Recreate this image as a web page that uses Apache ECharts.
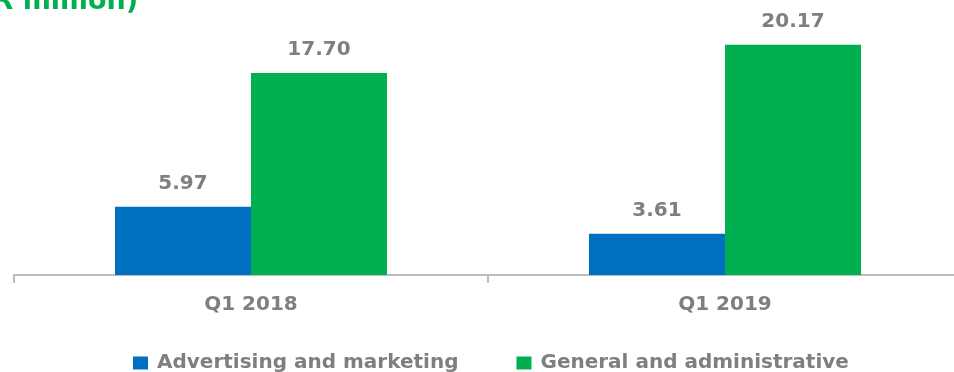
<!DOCTYPE html>
<html>
<head>
<meta charset="utf-8">
<script src="https://cdn.jsdelivr.net/npm/echarts@6/dist/echarts.min.js"></script>
<style>
  html, body { margin: 0; padding: 0; background: #ffffff; overflow: hidden; }
  #chart { width: 954px; height: 372px; }
</style>
</head>
<body>
<div id="chart"></div>
<script>
// Quarterly expense breakdown (EUR million)
const categories = ['Q1 2018', 'Q1 2019'];
const seriesNames = ['Advertising and marketing', 'General and administrative'];
const advertising = [5.97, 3.61];
const generalAdmin = [17.70, 20.17];
const titleText = '(EUR million)';

const BLUE = '#0070C0';
const GREEN = '#00B050';
const GREY = '#7F7F7F';
const FONT = '"DejaVu Sans", Verdana, sans-serif';

const chart = echarts.init(document.getElementById('chart'), null, { renderer: 'canvas' });

const labelStyle = {
  show: true,
  position: 'top',
  distance: 13,
  color: GREY,
  fontFamily: FONT,
  fontWeight: 'bold',
  fontSize: 20,
  formatter: p => p.value.toFixed(2)
};

chart.setOption({
  animation: false,
  backgroundColor: '#ffffff',
  graphic: [{
    type: 'text',
    x: 138,
    y: 15,
    style: {
      text: titleText,
      fill: GREEN,
      font: 'bold 27px ' + FONT,
      align: 'right',
      verticalAlign: 'bottom'
    }
  }],
  legend: {
    left: 128,
    top: 348,
    itemWidth: 15,
    itemHeight: 13,
    itemGap: 58,
    icon: 'rect',
    data: seriesNames,
    textStyle: {
      color: GREY,
      fontFamily: FONT,
      fontWeight: 'bold',
      fontSize: 20,
      padding: [0, 0, 0, 4]
    }
  },
  // the plot runs a little past the right edge, so the last band is clipped
  grid: {
    left: 14, width: 948, top: 1, bottom: 97,
    containLabel: false,
    outerBoundsMode: 'none'
  },
  xAxis: {
    type: 'category',
    data: categories,
    axisLine: { show: true, lineStyle: { color: '#A6A6A6', width: 1.5 } },
    axisTick: { show: true, length: 8, alignWithLabel: false, lineStyle: { color: '#A6A6A6', width: 1.5 } },
    axisLabel: {
      color: GREY,
      fontFamily: FONT,
      fontWeight: 'bold',
      fontSize: 20,
      margin: 20
    }
  },
  yAxis: {
    type: 'value',
    min: 0,
    max: 24,
    show: false,
    splitLine: { show: false }
  },
  series: [
    {
      name: seriesNames[0],
      type: 'bar',
      data: advertising,
      barWidth: 136,
      barGap: '0%',
      itemStyle: { color: BLUE },
      label: labelStyle
    },
    {
      name: seriesNames[1],
      type: 'bar',
      data: generalAdmin,
      barWidth: 136,
      barGap: '0%',
      itemStyle: { color: GREEN },
      label: labelStyle
    }
  ]
});
</script>
</body>
</html>
